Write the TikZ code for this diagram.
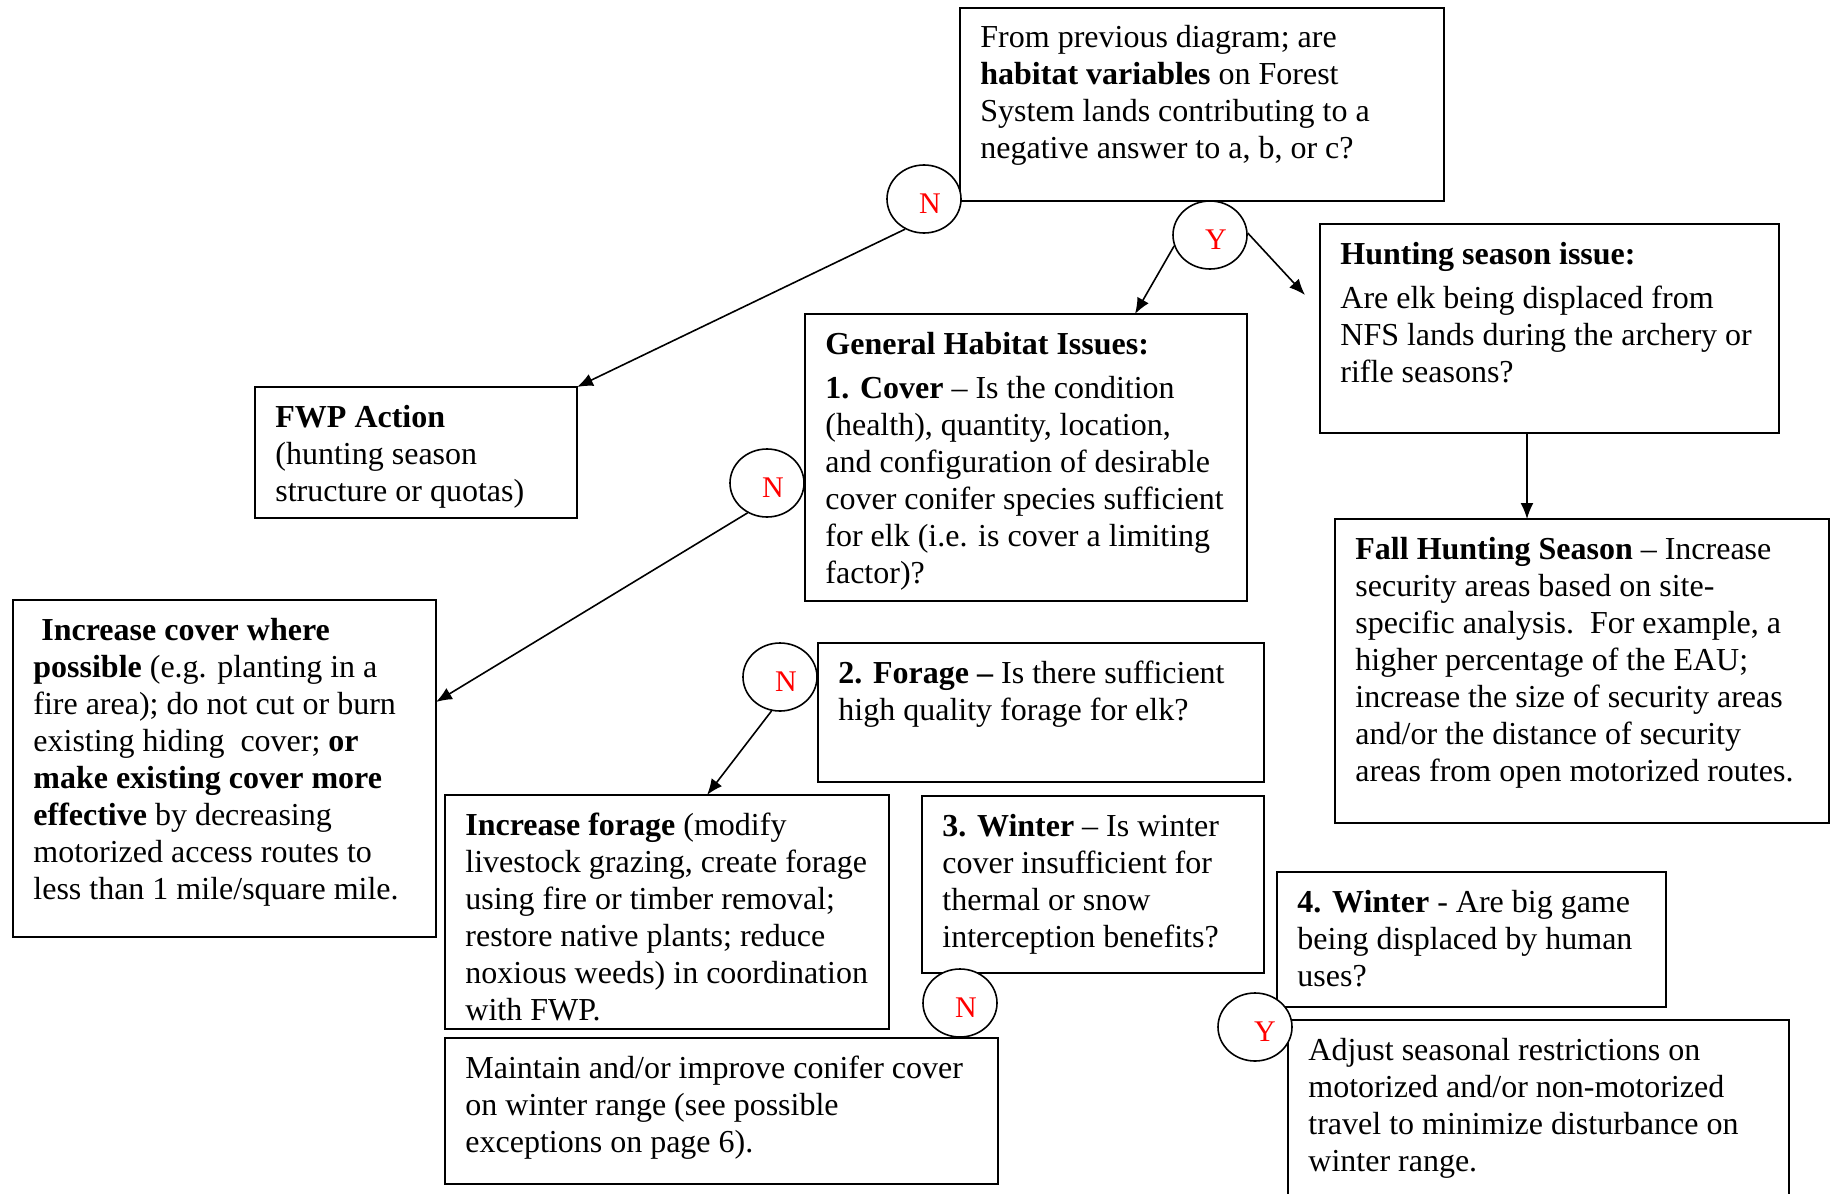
\documentclass[tikz,border=0pt]{standalone}
\usepackage{fontspec}
\setmainfont{Liberation Serif}
\usetikzlibrary{shapes.geometric,arrows.meta,calc}
\begin{document}
\begin{tikzpicture}[x=0.5pt,y=-0.5pt,
  box/.style={draw,line width=0.9pt,anchor=north west,inner sep=0pt,outer sep=0pt},
  txt/.style={anchor=north west,inner sep=0pt,align=left,font=\fontsize{16}{18.5}\selectfont},
  yn/.style={draw,ellipse,line width=0.8pt,fill=white,minimum width=37pt,minimum height=34pt,inner sep=0pt,text=red,text height=14.5pt,text depth=0pt,font=\fontsize{15}{17}\selectfont},
  arr/.style={-{Latex[length=8pt,width=6.5pt]},line width=0.8pt}]
\useasboundingbox (0,0) rectangle (1832,1194);
% boxes
\node[box,minimum width=242pt,minimum height=96.5pt] (top) at (960,8) {};
\node[box,minimum width=229.5pt,minimum height=104.5pt] (hunt) at (1320,224) {};
\node[box,minimum width=221pt,minimum height=143.5pt] (gen) at (805,314) {};
\node[box,minimum width=161pt,minimum height=65.5pt] (fwp) at (255,387) {};
\node[box,minimum width=247pt,minimum height=152pt] (fall) at (1335,519) {};
\node[box,minimum width=211.5pt,minimum height=168.5pt] (cov) at (13,600) {};
\node[box,minimum width=223pt,minimum height=69.5pt] (forg) at (818,643) {};
\node[box,minimum width=222pt,minimum height=117pt] (incf) at (445,795) {};
\node[box,minimum width=171pt,minimum height=88.5pt] (win3) at (922,796) {};
\node[box,minimum width=194.5pt,minimum height=67.5pt] (win4) at (1277,872) {};
\node[box,minimum width=276.5pt,minimum height=73pt] (mnt) at (445,1038) {};
\node[box,minimum width=250.5pt,minimum height=95pt] (adj) at (1288,1020) {};
% texts
\node[txt] (topT) at ($(top.north west)+(20,13)$) {\strut From previous diagram; are\\ \textbf{habitat variables} on Forest\\ System lands contributing to a\\ negative answer to a, b, or c?};
\node[txt] (huntT) at ($(hunt.north west)+(20,14)$) {\strut\textbf{Hunting season issue:}\\[3.7pt] Are elk being displaced from\\ NFS lands during the archery or\\ rifle seasons?};
\node[txt] (genT) at ($(gen.north west)+(20,14)$) {\strut\textbf{General Habitat Issues:}\\[3.7pt] \textbf{1. Cover} – Is the condition\\ (health), quantity, location,\\ and configuration of desirable\\ cover conifer species sufficient\\ for elk (i.e. is cover a limiting\\ factor)?};
\node[txt] (fwpT) at ($(fwp.north west)+(20,14)$) {\strut\textbf{FWP Action}\\ (hunting season\\ structure or quotas)};
\node[txt] (fallT) at ($(fall.north west)+(20,14)$) {\strut\textbf{Fall Hunting Season} – Increase\\ security areas based on site-\\ specific analysis.\ \ For example, a\\ higher percentage of the EAU;\\ increase the size of security areas\\ and/or the distance of security\\ areas from open motorized routes.};
\node[txt] (covT) at ($(cov.north west)+(20,14)$) {\strut\hspace*{4pt}\textbf{Increase cover where}\\ \textbf{possible} (e.g. planting in a\\ fire area); do not cut or burn\\ existing hiding\ \ cover; \textbf{or}\\ \textbf{make existing cover more}\\ \textbf{effective} by decreasing\\ motorized access routes to\\ less than 1 mile/square mile.};
\node[txt] (forgT) at ($(forg.north west)+(20,14)$) {\strut\textbf{2. Forage –} Is there sufficient\\ high quality forage for elk?};
\node[txt] (incfT) at ($(incf.north west)+(20,14)$) {\strut\textbf{Increase forage} (modify\\ livestock grazing, create forage\\ using fire or timber removal;\\ restore native plants; reduce\\ noxious weeds) in coordination\\ with FWP.};
\node[txt] (win3T) at ($(win3.north west)+(20,14)$) {\strut\textbf{3. Winter} – Is winter\\ cover insufficient for\\ thermal or snow\\ interception benefits?};
\node[txt] (win4T) at ($(win4.north west)+(20,14)$) {\strut\textbf{4. Winter} - Are big game\\ being displaced by human\\ uses?};
\node[txt] (mntT) at ($(mnt.north west)+(20,14)$) {\strut Maintain and/or improve conifer cover\\ on winter range (see possible\\ exceptions on page 6).};
\node[txt] (adjT) at ($(adj.north west)+(20,14)$) {\strut Adjust seasonal restrictions on\\ motorized and/or non-motorized\\ travel to minimize disturbance on\\ winter range.};
% circles
\node[yn] (n1) at (924,199) {\hspace*{6pt}N};
\node[yn] (y1) at (1210,235) {\hspace*{6pt}Y};
\node[yn] (n2) at (767,483) {\hspace*{6pt}N};
\node[yn] (n3) at (780,677) {\hspace*{6pt}N};
\node[yn] (n4) at (960,1003) {\hspace*{6pt}N};
\node[yn] (y2) at (1255,1027) {\hspace*{10pt}Y};
% connector end points
\coordinate (genIn) at ($(gen.north west)+(330,0)$);
\coordinate (huntIn) at ($(hunt.north west)+(-15,71)$);
\coordinate (huntOut) at ($(hunt.south west)+(207,0)$);
\coordinate (covIn) at ($(cov.north east)+(0,102)$);
\coordinate (incfIn) at ($(incf.north west)+(262,0)$);
% arrows
\draw[arr] (n1.238) -- (fwp.north east);
\draw[arr] (y1.197) -- (genIn);
\draw[arr] (y1.3) -- (huntIn);
\draw[arr] (huntOut) -- (huntOut |- fall.north);
\draw[arr] (n2.237) -- (covIn);
\draw[arr] (n3.256) -- (incfIn);
\end{tikzpicture}
\end{document}
